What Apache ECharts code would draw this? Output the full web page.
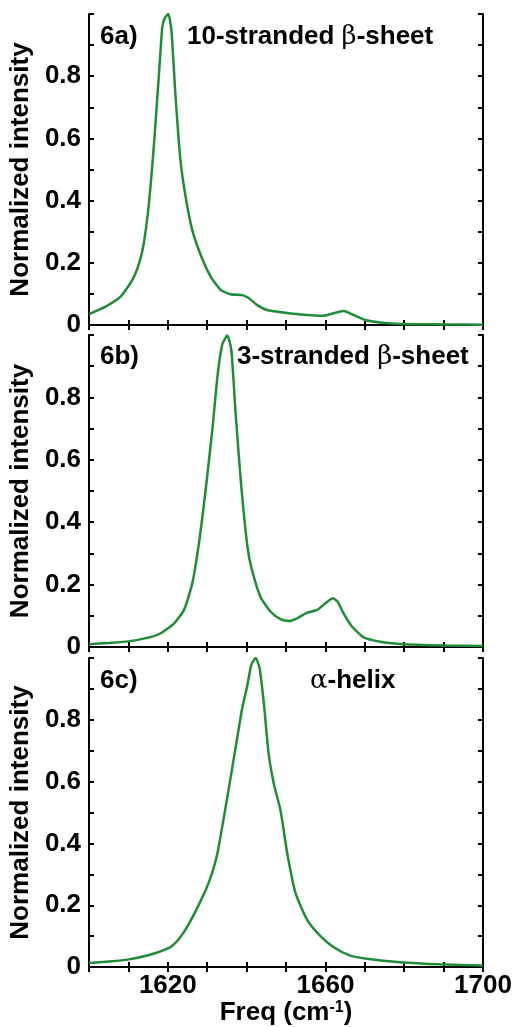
<!DOCTYPE html>
<html><head><meta charset="utf-8">
<script src="https://cdn.jsdelivr.net/npm/echarts@6/dist/echarts.min.js"></script>
<style>html,body{margin:0;padding:0;background:#fff}#c{width:516px;height:1027px}</style>
</head><body><div id="c"></div>
<script>
// Panel 6a: 10-stranded beta-sheet
const freqA = [1600,1604.2,1608,1611,1612.7,1613.9,1615.2,1616.5,1617.7,1618.6,1619.2,1620.1,1620.9,1621.9,1623.2,1624.5,1626.2,1628.5,1630.9,1633.4,1635.9,1638.9,1640.6,1642.7,1645.2,1649.4,1653.7,1659.6,1662.1,1664.6,1667.2,1670.1,1673.9,1679,1690,1700];
const intA  = [0.035,0.059,0.091,0.145,0.198,0.263,0.391,0.584,0.798,0.959,0.986,1.0,0.949,0.745,0.531,0.413,0.305,0.22,0.155,0.113,0.099,0.096,0.086,0.064,0.048,0.040,0.034,0.030,0.038,0.045,0.032,0.016,0.008,0.003,0.002,0.001];
// Panel 6b: 3-stranded beta-sheet
const freqB = [1600,1605,1610,1615,1618.2,1621.6,1624.1,1626.2,1627.9,1629.6,1631.3,1632.6,1633.8,1635.1,1636.1,1637.2,1638.5,1640.2,1641.3,1643.5,1646.1,1648.6,1650.7,1652.8,1655.4,1657.9,1660,1661.9,1663.1,1664.6,1666.8,1669.7,1673.9,1679,1690,1700];
const intB  = [0.009,0.013,0.018,0.03,0.044,0.076,0.119,0.204,0.333,0.504,0.697,0.868,0.969,0.998,0.953,0.75,0.536,0.322,0.25,0.161,0.113,0.089,0.083,0.092,0.110,0.119,0.140,0.156,0.145,0.108,0.065,0.031,0.017,0.010,0.005,0.003];
// Panel 6c: alpha-helix
const freqC = [1600,1605.1,1610.1,1615.2,1620.3,1622.8,1625.3,1628.7,1630.8,1632.6,1635.1,1637.2,1638.9,1640.2,1641.2,1642.3,1643.3,1644.4,1645.6,1646.9,1648.6,1650.3,1652.4,1655.4,1658.7,1662.1,1666.3,1670.5,1679,1689.1,1700];
const intC  = [0.013,0.018,0.025,0.039,0.062,0.091,0.139,0.224,0.288,0.369,0.55,0.71,0.839,0.913,0.978,1.0,0.967,0.849,0.689,0.593,0.507,0.369,0.24,0.152,0.101,0.064,0.037,0.027,0.016,0.009,0.005];

const panelLabels = ['6a)','6b)','6c)'];
const panelTitles = ['{b|10-stranded }{g|β}{b|-sheet}','{b|3-stranded }{g|β}{b|-sheet}','{g|α}{b|-helix}'];
const xTickLabels = [1620,1660,1700];
const yTickLabels = [0,0.2,0.4,0.6,0.8];

const FONT = 'Liberation Sans, Arial, sans-serif';
const GREEN = '#1f8c36';
const grids = [{top:14,height:311},{top:335,height:312},{top:658,height:312}];
const series = [[freqA,intA],[freqB,intB],[freqC,intC]];

const option = {backgroundColor:'#fff', animation:false, grid:[], xAxis:[], yAxis:[], series:[], graphic:[]};
const axLine = {show:true, lineStyle:{color:'#000', width:2}};
const tick = {show:true, inside:true, length:5, lineStyle:{color:'#000', width:2}};
grids.forEach((g,i)=>{
  option.grid.push({left:88, width:395, top:g.top, height:g.height});
  const last = i===2;
  option.xAxis.push({type:'value', gridIndex:i, min:1600, max:1700, interval:10, position:'bottom',
    axisLine:axLine, axisTick:tick, splitLine:{show:false},
    axisLabel:{show:last, margin:6, color:'#000', fontFamily:FONT, fontWeight:'bold', fontSize:26,
      formatter:v=> xTickLabels.includes(Math.round(v)) ? String(Math.round(v)) : ''},
    name: last ? '{a|Freq (cm}{s|-1}{a|)}' : '', nameLocation:'middle', nameGap:30,
    nameTextStyle:{rich:{a:{fontFamily:FONT,fontWeight:'bold',fontSize:26,color:'#000'},
      s:{fontFamily:FONT,fontWeight:'bold',fontSize:16,color:'#000',verticalAlign:'top', padding:[0,0,10,0]}}}
  });
  option.xAxis.push({type:'value', gridIndex:i, min:1600, max:1700, interval:10, position:'top',
    axisLine:axLine, axisTick:tick, axisLabel:{show:false}, splitLine:{show:false}});
  option.yAxis.push({type:'value', gridIndex:i, min:0, max:1, interval:0.1, position:'left',
    axisLine:axLine, axisTick:tick, splitLine:{show:false},
    axisLabel:{margin:8, color:'#000', fontFamily:FONT, fontWeight:'bold', fontSize:26,
      formatter:v=>{const r=Math.round(v*10)/10; return yTickLabels.some(t=>Math.abs(t-r)<1e-6) ? String(r) : '';}},
    name:'Normalized intensity', nameLocation:'middle', nameRotate:90, nameGap:50,
    nameTextStyle:{fontFamily:FONT, fontWeight:'bold', fontSize:26, color:'#000'}});
  option.yAxis.push({type:'value', gridIndex:i, min:0, max:1, interval:0.1, position:'right',
    axisLine:axLine, axisTick:tick, axisLabel:{show:false}, splitLine:{show:false}});
  const [fx,fy] = series[i];
  option.series.push({type:'line', xAxisIndex:2*i, yAxisIndex:2*i, data:fx.map((f,k)=>[f,fy[k]]),
    smooth:0.2, showSymbol:false, lineStyle:{color:GREEN, width:2.5}, z:3});
});
const labelY = [38, 358, 682];
const titleX = [187, 237, 310];
const rich = {b:{fontFamily:FONT,fontWeight:'bold',fontSize:26,fill:'#000'}, g:{fontFamily:'DejaVu Serif, serif',fontWeight:'normal',fontSize:26,fill:'#000'}};
for (let i=0;i<3;i++){
  option.graphic.push({type:'text', left:100, top:labelY[i]-14, style:{text:panelLabels[i], font:'bold 26px '+FONT, fill:'#000'}, z:10});
  option.graphic.push({type:'text', left:titleX[i], top:labelY[i]-14, style:{text:panelTitles[i], rich:rich, fill:'#000'}, z:10});
}
const chart = echarts.init(document.getElementById('c'), null, {renderer:'canvas'});
chart.setOption(option);
</script></body></html>
